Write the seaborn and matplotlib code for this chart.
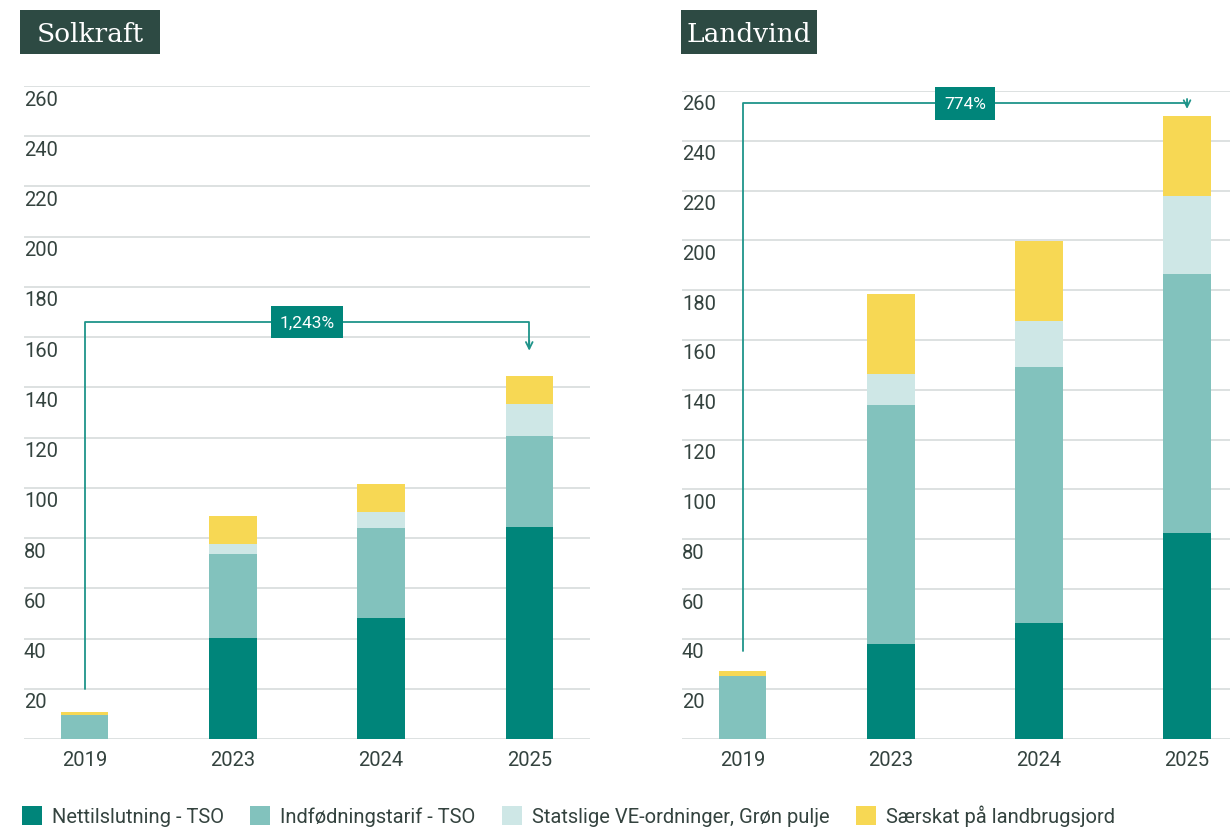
import pandas as pd
import matplotlib
matplotlib.use("Agg")
import matplotlib.pyplot as plt
import matplotlib.transforms as mtransforms
from matplotlib.patches import Patch, Rectangle
import seaborn as sns

# data (values per year, stacked components)
years = ["2019", "2023", "2024", "2025"]
components = ["Nettilslutning - TSO", "Indfødningstarif - TSO",
              "Statslige VE-ordninger, Grøn pulje", "Særskat på landbrugsjord"]

sol_net = [0.0, 40.2, 48.2, 84.5]
sol_indf = [9.7, 33.5, 35.9, 36.2]
sol_stat = [0.0, 4.0, 6.3, 12.8]
sol_skat = [1.2, 11.1, 11.2, 11.1]

vind_net = [0.0, 37.8, 46.2, 82.6]
vind_indf = [25.0, 96.0, 102.8, 104.0]
vind_stat = [0.0, 12.4, 18.8, 31.2]
vind_skat = [2.0, 32.2, 32.0, 32.0]

panel_titles = ["Solkraft", "Landvind"]
growth_labels = ["1,243%", "774%"]
y_ticks = list(range(20, 261, 20))

colors = ["#00857a", "#82c2bd", "#cee7e6", "#f7d854"]
TEXT = "#34433f"
GRID = "#d3d9d8"
TITLE_BG = "#2d4a43"
ANNOT = "#1f948a"

W, H = 1230, 828

sns.set_theme(style="white")
plt.rcParams["font.family"] = ["Roboto", "DejaVu Sans"]

fig = plt.figure(figsize=(12.3, 8.28), dpi=100)
ax_sol = fig.add_axes([24 / W, 88 / H, 566 / W, 653 / H])
ax_vind = fig.add_axes([682 / W, 88.5 / H, 548 / W, 647.5 / H])


def draw_panel(ax, series, title, growth, xlim, level, start_off, end_off, box):
    df = pd.DataFrame(dict(zip(components, series)), index=years)
    cum = df.cumsum(axis=1)
    # draw cumulative totals from the top layer down so they look stacked
    for comp, col in zip(reversed(components), reversed(colors)):
        sns.barplot(x=years, y=cum[comp].values, order=years, color=col,
                    width=0.32, linewidth=0, saturation=1, ax=ax, zorder=3)
    ax.set_xlim(*xlim)
    ax.set_ylim(0, 260)
    ax.set_yticks([0] + y_ticks)
    ax.set_yticklabels([])
    ax.tick_params(axis="y", length=0)
    ax.tick_params(axis="x", length=0, labelsize=14.5, labelcolor=TEXT, pad=8)
    ax.yaxis.grid(True, color=GRID, linewidth=1.1, zorder=0)
    ax.set_axisbelow(True)
    for s in ax.spines.values():
        s.set_visible(False)
    ax.set_xlabel("")
    ax.set_ylabel("")

    trans = mtransforms.blended_transform_factory(ax.transAxes, ax.transData)
    for t in y_ticks:
        ax.text(0.0, t - 5.2, str(t), transform=trans, ha="left", va="center",
                fontsize=14.5, color=TEXT)

    # panel title box (pixel box: left, top, width, height)
    bx, by, bw, bh = box
    fig.patches.append(Rectangle((bx / W, 1 - (by + bh) / H), bw / W, bh / H,
                                 transform=fig.transFigure, fc=TITLE_BG, ec="none"))
    fig.text((bx + bw / 2) / W, 1 - (by + bh / 2 + 1) / H, title, ha="center",
             va="center", fontsize=19, color="white", family=["DejaVu Serif"])

    # growth bracket from first to last bar
    totals = cum[components[-1]].values
    y0 = totals[0] + start_off
    y1 = totals[-1] + end_off
    ax.plot([0, 0, 3, 3], [y0, level, level, y1 + 1.5], color=ANNOT,
            linewidth=1.3, zorder=4, clip_on=False)
    ax.annotate("", xy=(3, y1), xytext=(3, y1 + 4),
                arrowprops=dict(arrowstyle="->", color=ANNOT, lw=1.3,
                                shrinkA=0, shrinkB=0, mutation_scale=12),
                zorder=4, annotation_clip=False)
    ax.text(1.5, level, growth, ha="center", va="center", fontsize=12.5,
            color="white", zorder=5,
            bbox=dict(boxstyle="square,pad=0.5", fc="#00857a", ec="none"))


draw_panel(ax_sol, [sol_net, sol_indf, sol_stat, sol_skat], panel_titles[0],
           growth_labels[0], (-0.41, 3.41), 166, 9.1, 10, (20, 11, 140, 44))
draw_panel(ax_vind, [vind_net, vind_indf, vind_stat, vind_skat], panel_titles[1],
           growth_labels[1], (-0.41, 3.29), 255, 8, 3, (681, 11, 136, 44))

handles = [Patch(facecolor=c, edgecolor="none") for c in colors]
fig.legend(handles, components, loc="center left", bbox_to_anchor=(0.011, 0.014),
           ncol=4, frameon=False, fontsize=14.5, handlelength=1.0, handleheight=1.1,
           handletextpad=0.5, columnspacing=1.3, labelcolor=TEXT, borderaxespad=0)

fig.savefig("out.png", dpi=100, facecolor="white")
